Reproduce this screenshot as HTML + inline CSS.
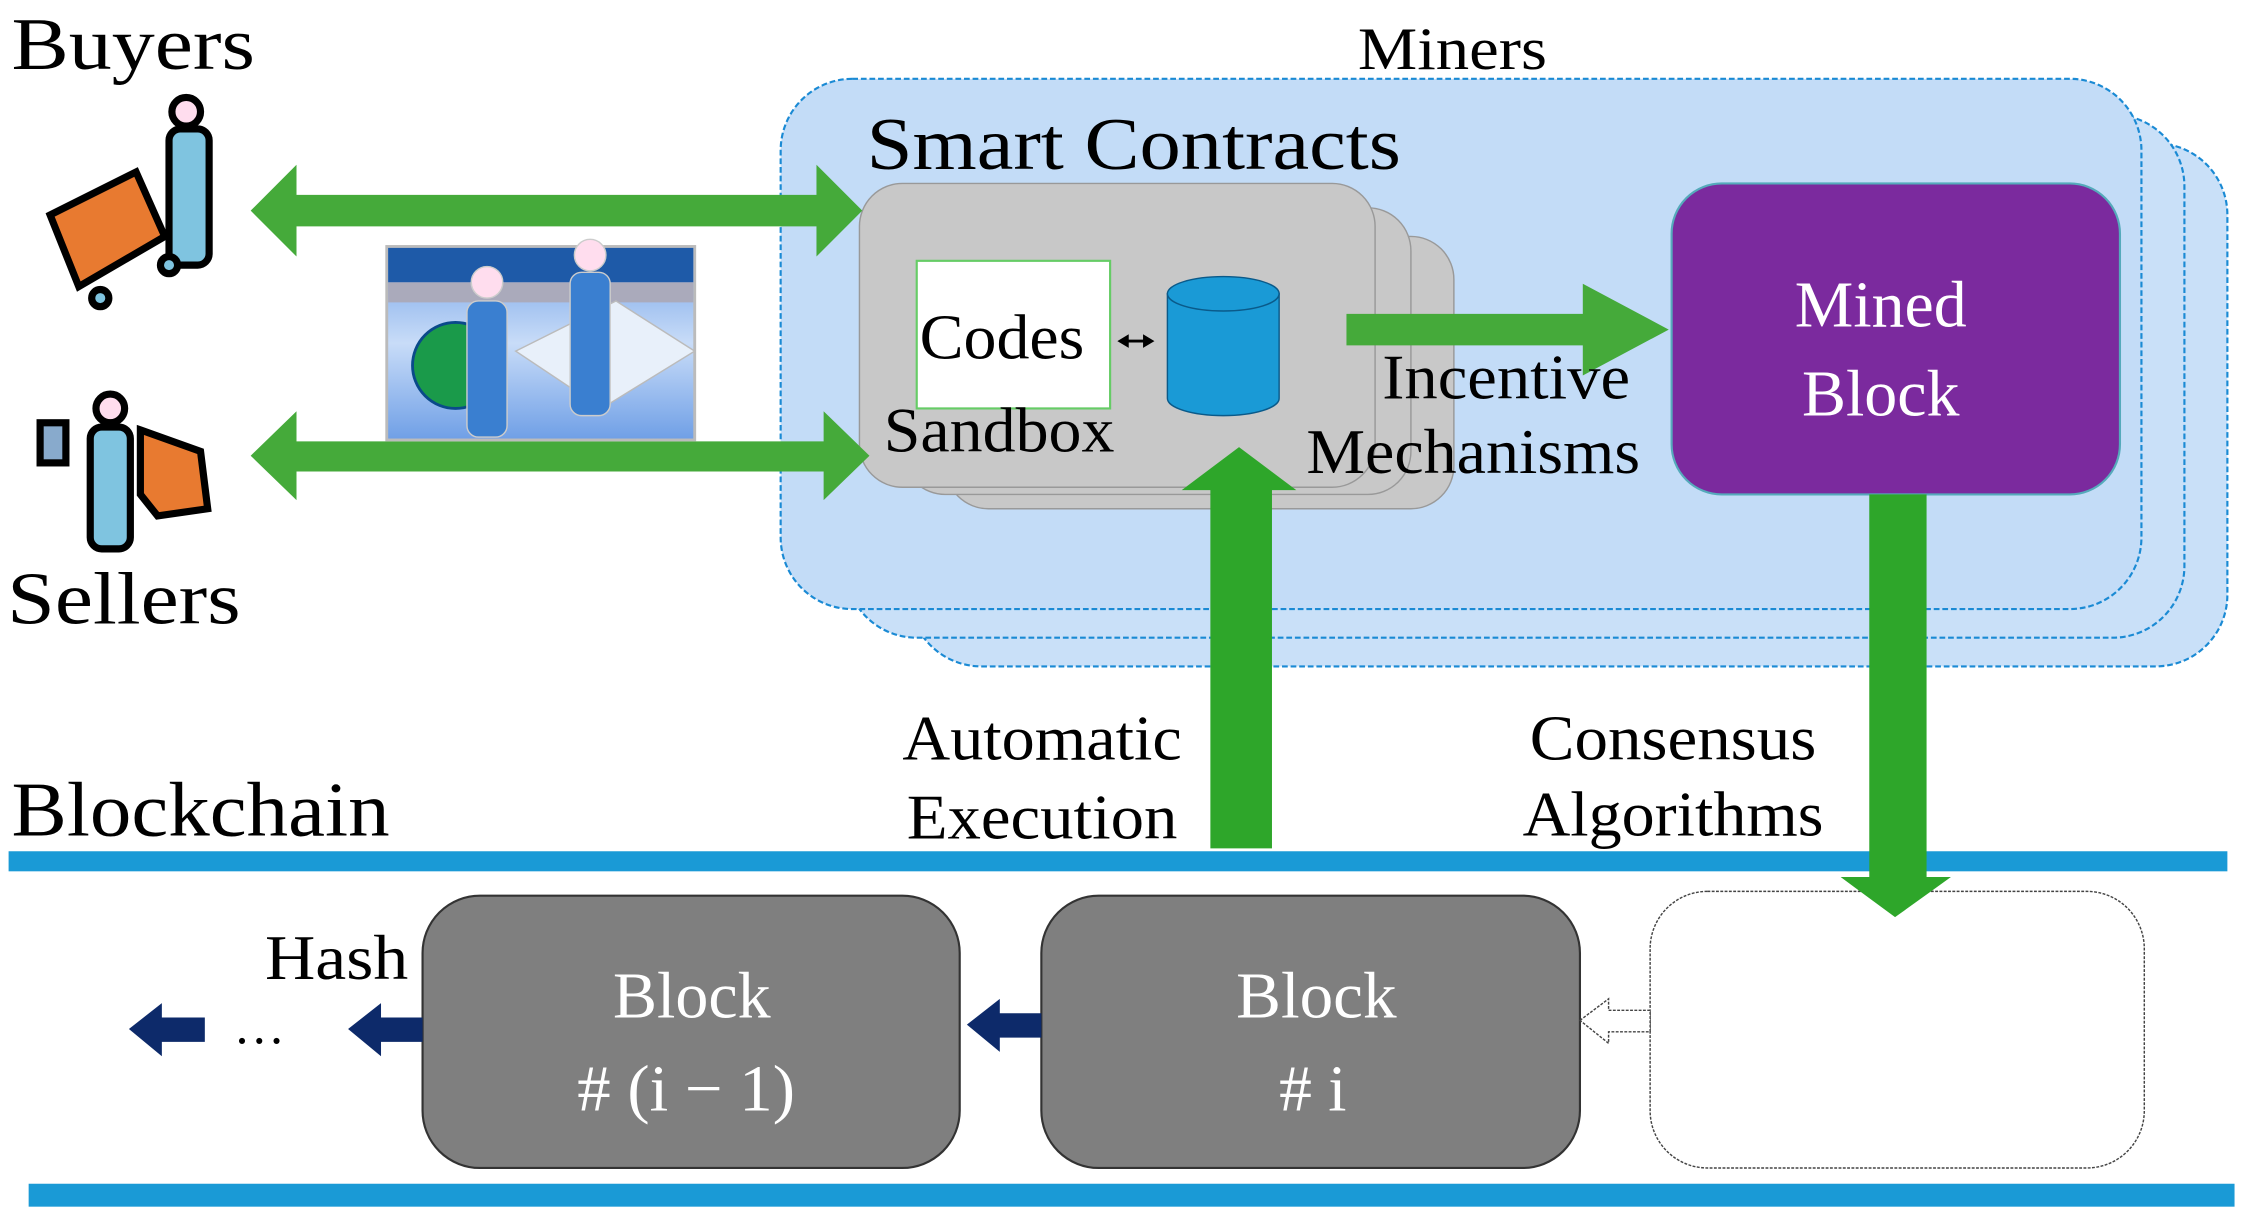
<!DOCTYPE html>
<html><head><meta charset="utf-8"><style>
html,body{margin:0;padding:0;background:#fff;}
svg{display:block;}
text{font-family:"Liberation Serif",serif;}
</style></head><body>
<svg width="2246" height="1221" viewBox="0 0 1568 852" preserveAspectRatio="none" xmlns="http://www.w3.org/2000/svg">
<defs>
<linearGradient id="sky" x1="0" y1="0" x2="0" y2="1"><stop offset="0" stop-color="#6f9fe6"/><stop offset="0.5" stop-color="#c8dcf8"/><stop offset="1" stop-color="#6f9fe6"/></linearGradient>
</defs>
<rect x="635" y="100" width="920" height="365" rx="50" fill="#c9e0f8" stroke="#1a8ad4" stroke-width="1.5" stroke-dasharray="4,2"/>
<rect x="590" y="80" width="935" height="365" rx="50" fill="#c9e0f8" stroke="#1a8ad4" stroke-width="1.5" stroke-dasharray="4,2"/>
<rect x="545" y="55" width="950" height="370" rx="50" fill="#c3dcf7" stroke="#1a8ad4" stroke-width="1.5" stroke-dasharray="4,2"/>
<text x="948" y="48" font-size="42" textLength="132" lengthAdjust="spacingAndGlyphs">Miners</text>
<text x="605" y="118" font-size="52" textLength="373" lengthAdjust="spacingAndGlyphs">Smart Contracts</text>
<rect x="660" y="165" width="355" height="190" rx="30" fill="#c8c8c8" stroke="#999"/>
<rect x="630" y="145" width="355" height="200" rx="30" fill="#c8c8c8" stroke="#999"/>
<rect x="600" y="128" width="360" height="212" rx="30" fill="#c8c8c8" stroke="#999"/>
<rect x="640" y="182" width="135" height="103" fill="#fff" stroke="#6c6" stroke-width="1.5"/>
<text x="642" y="250" font-size="44" textLength="115" lengthAdjust="spacingAndGlyphs">Codes</text>
<text x="617" y="315" font-size="44" textLength="161" lengthAdjust="spacingAndGlyphs">Sandbox</text>
<path d="M782 238 H804 M782 238 l5 -3 v6z M804 238 l-5 -3 v6z" stroke="#000" stroke-width="2" fill="#000"/>
<path d="M815 205 V278 A39 12 0 0 0 893 278 V205 Z" fill="#1a9ad6" stroke="#0a5a8a"/>
<ellipse cx="854" cy="205" rx="39" ry="12" fill="#1a9ad6" stroke="#0a5a8a"/>
<rect x="1167" y="128" width="313" height="217" rx="35" fill="#7b2a9e" stroke="#5ab" stroke-width="1.5"/>
<text x="1253" y="228" font-size="46" fill="#fff" textLength="120" lengthAdjust="spacingAndGlyphs">Mined</text>
<text x="1258" y="290" font-size="46" fill="#fff" textLength="110" lengthAdjust="spacingAndGlyphs">Block</text>
<polygon points="175,147 207,115 207,136 570,136 570,115 602,147 570,179 570,158 207,158 207,179" fill="#45aa3a"/>
<polygon points="175,318 207,287 207,308 575,308 575,287 607,318 575,349 575,329 207,329 207,349" fill="#45aa3a"/>
<polygon points="940,219 1105,219 1105,198 1165,230 1105,262 1105,241 940,241" fill="#45aa3a"/>
<polygon points="845,592 845,342 825,342 865,312 905,342 888,342 888,592" fill="#2ea62a"/>
<text x="965" y="278" font-size="44" textLength="173" lengthAdjust="spacingAndGlyphs">Incentive</text>
<text x="912" y="330" font-size="44" textLength="233" lengthAdjust="spacingAndGlyphs">Mechanisms</text>
<rect x="270" y="172" width="215" height="135" fill="url(#sky)" stroke="#bbb" stroke-width="2"/>
<rect x="271" y="173" width="213" height="24" fill="#1e5aa8"/>
<rect x="271" y="197" width="213" height="14" fill="#aab"/>
<circle cx="318" cy="255" r="30" fill="#1a9a4a" stroke="#0a4a8a" stroke-width="2"/>
<polygon points="360,245 430,210 485,245 420,285" fill="#e8f0fa" stroke="#bbb"/>
<rect x="326" y="210" width="28" height="95" rx="8" fill="#3a7fd0" stroke="#ccc"/>
<circle cx="340" cy="197" r="11" fill="#fde" stroke="#ccc"/>
<rect x="398" y="190" width="28" height="100" rx="8" fill="#3a7fd0" stroke="#ccc"/>
<circle cx="412" cy="178" r="11" fill="#fde" stroke="#ccc"/>
<g stroke="#000" stroke-width="5">
<circle cx="130" cy="78" r="10" fill="#fde"/>
<rect x="118" y="90" width="28" height="95" rx="8" fill="#7fc4e0"/>
<polygon points="35,150 95,120 115,165 55,200" fill="#e87a30"/>
<circle cx="70" cy="208" r="6" fill="#7fc4e0"/>
<circle cx="118" cy="185" r="6" fill="#7fc4e0"/>
<circle cx="77" cy="285" r="10" fill="#fde"/>
<rect x="63" y="298" width="28" height="85" rx="8" fill="#7fc4e0"/>
<rect x="28" y="295" width="18" height="28" fill="#8ac"/>
<polygon points="98,300 140,315 145,355 110,360 98,345" fill="#e87a30"/>
</g>
<text x="8" y="48" font-size="52" textLength="170" lengthAdjust="spacingAndGlyphs">Buyers</text>
<text x="5" y="435" font-size="52" textLength="163" lengthAdjust="spacingAndGlyphs">Sellers</text>
<text x="8" y="583" font-size="54" textLength="264" lengthAdjust="spacingAndGlyphs">Blockchain</text>
<text x="630" y="530" font-size="44" textLength="195" lengthAdjust="spacingAndGlyphs">Automatic</text>
<text x="633" y="585" font-size="44" textLength="189" lengthAdjust="spacingAndGlyphs">Execution</text>
<text x="1068" y="530" font-size="44" textLength="200" lengthAdjust="spacingAndGlyphs">Consensus</text>
<text x="1063" y="583" font-size="44" textLength="210" lengthAdjust="spacingAndGlyphs">Algorithms</text>
<rect x="6" y="594" width="1549" height="14" fill="#1a9ad6"/>
<rect x="20" y="826" width="1540" height="16" fill="#1a9ad6"/>
<rect x="295" y="625" width="375" height="190" rx="40" fill="#7f7f7f" stroke="#333" stroke-width="1.5"/>
<rect x="727" y="625" width="376" height="190" rx="40" fill="#7f7f7f" stroke="#333" stroke-width="1.5"/>
<rect x="1152" y="622" width="345" height="193" rx="40" fill="#fff" stroke="#444" stroke-width="1" stroke-dasharray="2,1"/>
<polygon points="1305,345 1345,345 1345,612 1362,612 1323,640 1285,612 1305,612" fill="#2ea62a"/>
<text x="428" y="710" font-size="46" fill="#fff" textLength="110" lengthAdjust="spacingAndGlyphs">Block</text>
<text x="403" y="775" font-size="46" fill="#fff" textLength="152" lengthAdjust="spacingAndGlyphs"># (i − 1)</text>
<text x="863" y="710" font-size="46" fill="#fff" textLength="112" lengthAdjust="spacingAndGlyphs">Block</text>
<text x="893" y="775" font-size="46" fill="#fff" textLength="47" lengthAdjust="spacingAndGlyphs"># i</text>
<text x="185" y="683" font-size="44" textLength="100" lengthAdjust="spacingAndGlyphs">Hash</text>
<text x="163" y="728" font-size="36">…</text>
<g fill="#0d2a6a">
<polygon points="90,718 113,700 113,710 143,710 143,727 113,727 113,737"/>
<polygon points="243,718 266,700 266,710 295,710 295,727 266,727 266,737"/>
<polygon points="675,715 698,697 698,707 727,707 727,724 698,724 698,734"/>
</g>
<polygon points="1103,712 1123,697 1123,705 1152,705 1152,720 1123,720 1123,728" fill="#fff" stroke="#444" stroke-dasharray="2,1"/>
</svg>
</body></html>
